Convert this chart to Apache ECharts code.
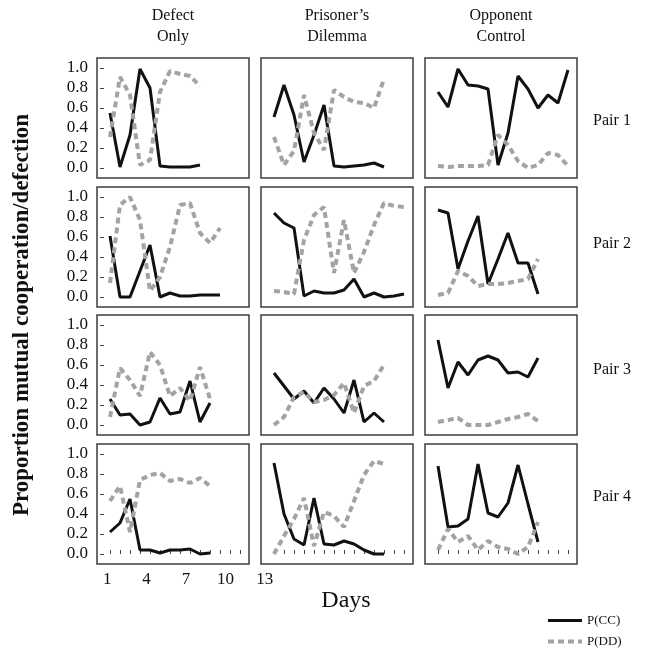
<!DOCTYPE html>
<html>
<head>
<meta charset="utf-8">
<script src="https://cdn.jsdelivr.net/npm/echarts@6/dist/echarts.min.js"></script>
<style>
  html, body { margin: 0; padding: 0; background: #fff; }
  #chart { width: 662px; height: 653px; }
</style>
</head>
<body>
<div id="chart"></div>
<script>
// panel titles
const conditions = ['Defect\nOnly', 'Prisoner\u2019s\nDilemma', 'Opponent\nControl']
const pairs = ['Pair 1', 'Pair 2', 'Pair 3', 'Pair 4']
const yTicks = [0, 0.2, 0.4, 0.6, 0.8, 1.0]
const dayTicks = [1, 2, 3, 4, 5, 6, 7, 8, 9, 10, 11, 12, 13, 14]
const dayLabels = [1, 4, 7, 10, 13]

// Pair 1
const defectCC1 = [0.55, 0.01, 0.33, 0.99, 0.80, 0.02, 0.01, 0.01, 0.01, 0.03]
const defectDD1 = [0.31, 0.91, 0.73, 0.03, 0.08, 0.76, 0.97, 0.94, 0.92, 0.82]
const pdCC1 = [0.51, 0.83, 0.53, 0.06, 0.33, 0.63, 0.02, 0.01, 0.02, 0.03, 0.05, 0.01]
const pdDD1 = [0.31, 0.03, 0.17, 0.73, 0.35, 0.18, 0.78, 0.71, 0.66, 0.65, 0.60, 0.89]
const ocCC1 = [0.76, 0.61, 0.99, 0.83, 0.82, 0.79, 0.03, 0.35, 0.92, 0.79, 0.60, 0.73, 0.65, 0.98]
const ocDD1 = [0.02, 0.01, 0.02, 0.02, 0.02, 0.03, 0.33, 0.23, 0.07, 0.00, 0.03, 0.15, 0.13, 0.02]
// Pair 2
const defectCC2 = [0.61, 0.00, 0.00, 0.26, 0.52, 0.00, 0.04, 0.01, 0.01, 0.02, 0.02, 0.02]
const defectDD2 = [0.14, 0.92, 1.00, 0.77, 0.06, 0.20, 0.50, 0.92, 0.94, 0.64, 0.54, 0.69]
const pdCC2 = [0.84, 0.74, 0.69, 0.01, 0.06, 0.04, 0.04, 0.07, 0.18, 0.00, 0.04, 0.00, 0.01, 0.03]
const pdDD2 = [0.06, 0.05, 0.03, 0.57, 0.82, 0.90, 0.24, 0.77, 0.24, 0.45, 0.72, 0.94, 0.91, 0.90]
const ocCC2 = [0.87, 0.84, 0.28, 0.56, 0.81, 0.13, 0.38, 0.64, 0.34, 0.34, 0.03]
const ocDD2 = [0.02, 0.04, 0.26, 0.21, 0.11, 0.13, 0.13, 0.14, 0.16, 0.18, 0.38]
// Pair 3
const defectCC3 = [0.26, 0.10, 0.11, 0.00, 0.03, 0.27, 0.11, 0.13, 0.44, 0.03, 0.22]
const defectDD3 = [0.08, 0.57, 0.45, 0.29, 0.73, 0.60, 0.29, 0.37, 0.24, 0.58, 0.26]
const pdCC3 = [0.52, 0.39, 0.26, 0.34, 0.22, 0.37, 0.26, 0.12, 0.45, 0.03, 0.12, 0.03]
const pdDD3 = [0.00, 0.08, 0.28, 0.33, 0.23, 0.25, 0.30, 0.42, 0.12, 0.39, 0.44, 0.60]
const ocCC3 = [0.85, 0.37, 0.63, 0.50, 0.65, 0.69, 0.65, 0.52, 0.53, 0.48, 0.67]
const ocDD3 = [0.03, 0.05, 0.07, 0.00, 0.00, 0.00, 0.03, 0.06, 0.08, 0.11, 0.04]
// Pair 4
const defectCC4 = [0.22, 0.31, 0.55, 0.04, 0.04, 0.01, 0.04, 0.04, 0.05, 0.00, 0.01]
const defectDD4 = [0.53, 0.68, 0.22, 0.74, 0.79, 0.81, 0.73, 0.75, 0.71, 0.76, 0.68]
const pdCC4 = [0.91, 0.40, 0.15, 0.09, 0.56, 0.10, 0.09, 0.13, 0.10, 0.04, 0.00, 0.00]
const pdDD4 = [0.00, 0.18, 0.35, 0.56, 0.08, 0.42, 0.38, 0.27, 0.53, 0.79, 0.93, 0.90]
const ocCC4 = [0.88, 0.27, 0.28, 0.35, 0.90, 0.41, 0.37, 0.51, 0.89, 0.50, 0.12]
const ocDD4 = [0.04, 0.25, 0.12, 0.18, 0.04, 0.13, 0.07, 0.05, 0.00, 0.07, 0.32]

const panelCC = [
  [defectCC1, pdCC1, ocCC1],
  [defectCC2, pdCC2, ocCC2],
  [defectCC3, pdCC3, ocCC3],
  [defectCC4, pdCC4, ocCC4],
]
const panelDD = [
  [defectDD1, pdDD1, ocDD1],
  [defectDD2, pdDD2, ocDD2],
  [defectDD3, pdDD3, ocDD3],
  [defectDD4, pdDD4, ocDD4],
]

const serif = 'Liberation Serif'
const colLeft = [97, 261, 425]
const rowTop = [58, 187, 315, 444]
const pairY = [121, 244, 370, 497]
const panelW = 152
const panelH = 120

const grid = []
const xAxis = []
const yAxis = []
const series = []
const toPoints = (vals) => vals.map((v, i) => [i + 1, v])

rowTop.forEach((top, r) => {
  colLeft.forEach((left, c) => {
    const idx = grid.length
    const last = r === rowTop.length - 1
    grid.push({
      left, top, width: panelW, height: panelH,
      show: true, borderColor: '#3c3c3c', borderWidth: 1.5,
    })
    xAxis.push({
      gridIndex: idx, type: 'value', min: -0.3, max: 14.9,
      axisLine: { show: false },
      splitLine: { show: false },
      axisLabel: { show: false },
      axisTick: {
        show: last, inside: true, length: 4,
        customValues: dayTicks,
        lineStyle: { color: '#444', width: 1 },
      },
    })
    yAxis.push({
      gridIndex: idx, type: 'value', min: -0.1, max: 1.1,
      axisLine: { show: false },
      splitLine: { show: false },
      axisTick: {
        show: c === 0, inside: true, length: 4,
        customValues: yTicks,
        lineStyle: { color: '#444', width: 1 },
      },
      axisLabel: {
        show: c === 0, margin: 9, customValues: yTicks,
        formatter: (v) => v.toFixed(1),
        fontFamily: serif, fontSize: 17, color: '#111',
      },
    })
    series.push({
      name: 'P(CC)', type: 'line', xAxisIndex: idx, yAxisIndex: idx,
      data: toPoints(panelCC[r][c]), symbol: 'none', silent: true,
      lineStyle: { color: '#111', width: 3 },
      itemStyle: { color: '#111' },
    })
    series.push({
      name: 'P(DD)', type: 'line', xAxisIndex: idx, yAxisIndex: idx,
      data: toPoints(panelDD[r][c]), symbol: 'none', silent: true,
      lineStyle: { color: '#a3a3a3', width: 4, type: [6, 4] },
      itemStyle: { color: '#a3a3a3' },
    })
  })
})

// shared day labels under the first column
const labelIdx = grid.length
grid.push({ left: 94, top: 566, width: 184, height: 1 })
xAxis.push({
  gridIndex: labelIdx, type: 'value', min: 0, max: 14,
  axisLine: { show: false }, axisTick: { show: false }, splitLine: { show: false },
  axisLabel: { margin: 4, customValues: dayLabels, fontFamily: serif, fontSize: 17, color: '#111' },
})
yAxis.push({ gridIndex: labelIdx, show: false })

const graphic = []
conditions.forEach((t, c) => {
  graphic.push({
    type: 'text', x: colLeft[c] + panelW / 2, y: 5,
    style: { text: t, font: '16px "Liberation Serif"', fill: '#111', textAlign: 'center', lineHeight: 21 },
  })
})
pairs.forEach((t, r) => {
  graphic.push({
    type: 'text', x: 612, y: pairY[r],
    style: { text: t, font: '16px "Liberation Serif"', fill: '#111', textAlign: 'center', textVerticalAlign: 'middle' },
  })
})
graphic.push({
  type: 'text', x: 22, y: 315, rotation: Math.PI / 2,
  style: { text: 'Proportion mutual cooperation/defection', font: 'bold 23px "Liberation Serif"', fill: '#111', textAlign: 'center', textVerticalAlign: 'middle' },
})
graphic.push({
  type: 'text', x: 346, y: 601,
  style: { text: 'Days', font: '24px "Liberation Serif"', fill: '#111', textAlign: 'center', textVerticalAlign: 'middle' },
})

const chart = echarts.init(document.getElementById('chart'), null, { renderer: 'canvas' })
chart.setOption({
  animation: false,
  backgroundColor: '#fff',
  grid, xAxis, yAxis, series, graphic,
  legend: {
    data: [
      { name: 'P(CC)', lineStyle: { width: 3 } },
      { name: 'P(DD)', lineStyle: { width: 4 } },
    ],
    orient: 'vertical', left: 546, top: 614, padding: 0,
    itemWidth: 34, itemHeight: 14, itemGap: 8,
    itemStyle: { opacity: 0 },
    textStyle: { fontFamily: serif, fontSize: 13, color: '#111' },
  },
})
</script>
</body>
</html>
